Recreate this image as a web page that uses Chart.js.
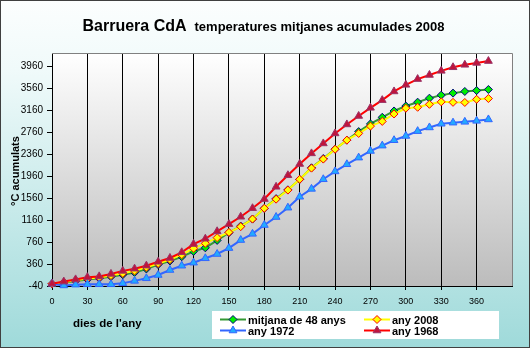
<!DOCTYPE html>
<html>
<head>
<meta charset="utf-8">
<script src="https://cdn.jsdelivr.net/npm/chart.js@4.4.1/dist/chart.umd.min.js"></script>
<style>
  html, body { margin: 0; padding: 0; background: #fff; }
</style>
</head>
<body>
<canvas id="chart" width="530" height="348"></canvas>
<script>
// dies de l'any (cada 10 dies)
const days = [0, 10, 20, 30, 40, 50, 60, 70, 80, 90, 100, 110, 120, 130, 140, 150, 160, 170, 180,
  190, 200, 210, 220, 230, 240, 250, 260, 270, 280, 290, 300, 310, 320, 330, 340, 350, 360, 370];

// graus acumulats per serie
const mitjana48 = [0, 20, 50, 80, 100, 130, 165, 205, 270, 350, 415, 493, 590, 655, 790, 930, 1050, 1178, 1373,
  1550, 1710, 1900, 2111, 2280, 2451, 2614, 2770, 2910, 3030, 3145, 3235, 3305, 3378, 3433, 3470, 3500, 3517, 3536];
const any2008 = [0, 30, 65, 95, 115, 150, 190, 235, 300, 370, 440, 530, 645, 736, 840, 936, 1040, 1178, 1373,
  1540, 1705, 1902, 2105, 2269, 2448, 2614, 2736, 2869, 2955, 3090, 3195, 3212, 3266, 3311, 3302, 3300, 3357, 3372];
const any1972 = [0, -30, -15, -9, -9, -9, 9, 53, 100, 160, 251, 329, 384, 464, 542, 650, 796, 909, 1069,
  1215, 1385, 1584, 1727, 1902, 2045, 2175, 2296, 2417, 2514, 2612, 2690, 2778, 2845, 2912, 2932, 2947, 2965, 2991];
const any1968 = [0, 40, 80, 120, 135, 180, 235, 275, 330, 400, 470, 573, 724, 820, 955, 1085, 1220, 1375, 1542,
  1765, 1975, 2180, 2373, 2554, 2736, 2900, 3054, 3202, 3342, 3500, 3620, 3725, 3800, 3875, 3940, 3985, 4020, 4053];

const xTicks = [0, 30, 60, 90, 120, 150, 180, 210, 240, 270, 300, 330, 360];
const yTicks = [-40, 360, 760, 1160, 1560, 1960, 2360, 2760, 3160, 3560, 3960];

const FONT = "'Liberation Sans', Arial, sans-serif";

function pts(vals) {
  return days.map((d, i) => ({ x: d, y: vals[i] }));
}

// fons degradat, títols i llegenda
const decor = {
  id: 'decor',
  beforeDraw(chart) {
    const ctx = chart.ctx, a = chart.chartArea;
    let g = ctx.createLinearGradient(0, 0, 0, chart.height);
    g.addColorStop(0, '#fcfefe');
    g.addColorStop(0.2, '#f0fafa');
    g.addColorStop(1, '#9fdada');
    ctx.fillStyle = g;
    ctx.fillRect(0, 0, chart.width, chart.height);

    g = ctx.createLinearGradient(0, a.top, 0, a.bottom);
    g.addColorStop(0, '#ffffff');
    g.addColorStop(1, '#bcbcbc');
    ctx.fillStyle = g;
    ctx.fillRect(a.left, a.top, a.right - a.left, a.bottom - a.top);
  },
  beforeDatasetsDraw(chart) {
    const ctx = chart.ctx, a = chart.chartArea;
    ctx.save();
    ctx.strokeStyle = '#808080';
    ctx.lineWidth = 1;
    ctx.beginPath();
    ctx.moveTo(a.left, a.top + 0.5);
    ctx.lineTo(a.right + 0.5, a.top + 0.5);
    ctx.lineTo(a.right + 0.5, a.bottom);
    ctx.stroke();
    ctx.restore();
  },
  afterDraw(chart) {
    const ctx = chart.ctx;
    ctx.save();
    ctx.fillStyle = '#000';
    ctx.textBaseline = 'alphabetic';

    // títol
    const t1 = 'Barruera CdA', t2 = 'temperatures mitjanes acumulades 2008';
    ctx.font = 'bold 16px ' + FONT;
    const w1 = ctx.measureText(t1).width;
    ctx.font = 'bold 13px ' + FONT;
    const w2 = ctx.measureText(t2).width;
    const x0 = 263.5 - (w1 + 8 + w2) / 2;
    ctx.font = 'bold 16px ' + FONT;
    ctx.fillText(t1, x0, 31);
    ctx.font = 'bold 13px ' + FONT;
    ctx.fillText(t2, x0 + w1 + 8, 31);

    // títol eix Y
    ctx.save();
    ctx.translate(19, 171);
    ctx.rotate(-Math.PI / 2);
    ctx.font = 'bold 11px ' + FONT;
    ctx.textAlign = 'center';
    ctx.fillText('°C acumulats', 0, 0);
    ctx.restore();

    // títol eix X
    ctx.font = 'bold 11.5px ' + FONT;
    ctx.fillText("dies de l'any", 73, 327);

    // llegenda
    ctx.fillStyle = '#fff';
    ctx.fillRect(212, 311, 287, 28);
    const slots = [[220, 319.5], [364, 319.5], [220, 330.5], [364, 330.5]];
    chart.data.datasets.forEach((ds, k) => {
      const [lx, ly] = slots[k];
      ctx.strokeStyle = ds.borderColor;
      ctx.lineWidth = ds.borderWidth;
      ctx.beginPath();
      ctx.moveTo(lx, ly);
      ctx.lineTo(lx + 26, ly);
      ctx.stroke();
      ctx.fillStyle = ds.pointBackgroundColor;
      ctx.strokeStyle = ds.pointBorderColor;
      ctx.lineWidth = ds.pointBorderWidth;
      Chart.helpers.drawPoint(ctx, {
        pointStyle: ds.pointStyle, radius: ds.pointRadius, borderWidth: ds.pointBorderWidth, rotation: 0
      }, lx + 13, ly);
      ctx.fillStyle = '#000';
      ctx.font = 'bold 11px ' + FONT;
      ctx.fillText(ds.label, lx + 28, ly + 4);
    });

    ctx.strokeStyle = '#404040';
    ctx.lineWidth = 1;
    ctx.strokeRect(0.5, 0.5, chart.width - 1, chart.height - 1);
    ctx.restore();
  }
};

new Chart(document.getElementById('chart'), {
  type: 'line',
  data: {
    datasets: [
      {
        label: 'mitjana de 48 anys', data: pts(mitjana48), order: 4,
        borderColor: '#339933', borderWidth: 2,
        pointStyle: 'rectRot', pointRadius: 4, pointBorderWidth: 1,
        pointBackgroundColor: '#00ee00', pointBorderColor: '#000080'
      },
      {
        label: 'any 2008', data: pts(any2008), order: 3,
        borderColor: '#ffff00', borderWidth: 2,
        pointStyle: 'rectRot', pointRadius: 4, pointBorderWidth: 1,
        pointBackgroundColor: '#ffff00', pointBorderColor: '#ff0000'
      },
      {
        label: 'any 1972', data: pts(any1972), order: 2,
        borderColor: '#3366ff', borderWidth: 2,
        pointStyle: 'triangle', pointRadius: 4.5, pointBorderWidth: 1,
        pointBackgroundColor: '#22aaff', pointBorderColor: '#3366ff'
      },
      {
        label: 'any 1968', data: pts(any1968), order: 1,
        borderColor: '#ff0000', borderWidth: 2,
        pointStyle: 'triangle', pointRadius: 4.5, pointBorderWidth: 1,
        pointBackgroundColor: '#c0143c', pointBorderColor: '#993366'
      }
    ]
  },
  options: {
    responsive: false,
    animation: false,
    layout: { padding: { top: 53, right: 18, left: 0, bottom: 0 } },
    elements: { line: { tension: 0 } },
    datasets: { line: { clip: false } },
    plugins: { legend: { display: false }, tooltip: { enabled: false }, title: { display: false } },
    scales: {
      x: {
        type: 'linear', min: 0, max: 390,
        afterBuildTicks: s => { s.ticks = xTicks.map(v => ({ value: v })); },
        afterFit: s => { s.height = 62; },
        ticks: { color: '#000', font: { family: FONT, size: 9 }, padding: 6, maxRotation: 0, autoSkip: false,
          callback: v => String(v) },
        grid: { color: '#000', lineWidth: 1, tickLength: 4 },
        border: { color: '#000', width: 1 }
      },
      y: {
        min: -40, max: 4200,
        afterBuildTicks: s => { s.ticks = yTicks.map(v => ({ value: v })); },
        afterFit: s => { s.width = 52; },
        ticks: { color: '#000', font: { family: FONT, size: 10 }, padding: 4, callback: v => String(v) },
        grid: { drawOnChartArea: false, drawTicks: true, tickLength: 5, color: '#000' },
        border: { color: '#000', width: 1 }
      }
    }
  },
  plugins: [decor]
});
</script>
</body>
</html>
